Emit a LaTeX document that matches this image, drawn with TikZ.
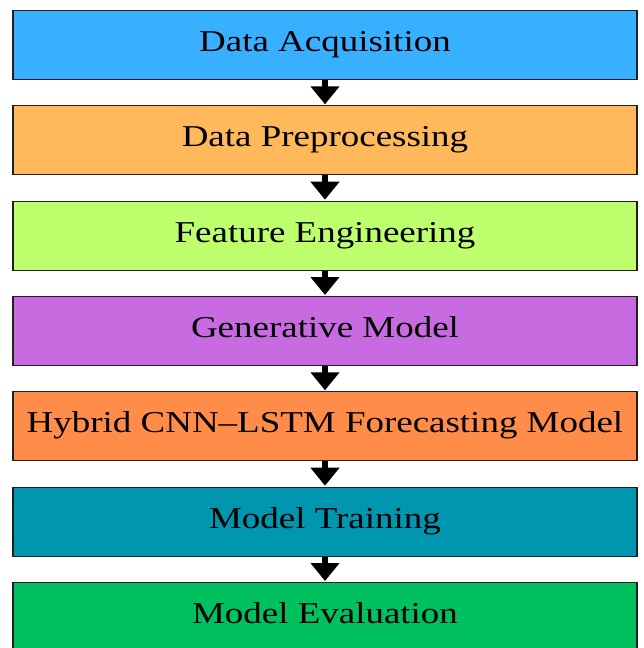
\documentclass[tikz,border=0pt]{standalone}
\usepackage{fontspec}
\setmainfont{Liberation Serif}[FakeStretch=1.22]
\usetikzlibrary{arrows.meta}
\definecolor{cA}{HTML}{38B0FF}
\definecolor{cB}{HTML}{FFB85A}
\definecolor{cC}{HTML}{BEFF6E}
\definecolor{cD}{HTML}{C86AE0}
\definecolor{cE}{HTML}{FF8C48}
\definecolor{cF}{HTML}{0096B0}
\definecolor{cG}{HTML}{00C060}
\definecolor{edge}{HTML}{202020}
\tikzset{
  stage/.style={draw=edge, line width=1.1pt, fill=#1, minimum width=624pt,
    minimum height=69pt, inner sep=0pt, text height=41pt, text depth=28pt,
    font=\fontsize{30.3}{34}\selectfont, text=black, anchor=north},
  flow/.style={line width=6.5pt, -{Triangle[width=28pt,length=18pt]}, black}
}
\begin{document}
\begin{tikzpicture}[x=1pt,y=1pt]
\useasboundingbox (0,0) rectangle (643,-648);
\node[stage=cA] (s1) at (325,-10) {Data Acquisition};
\node[stage=cB] (s2) at (325,-105.3) {Data Preprocessing};
\node[stage=cC] (s3) at (325,-200.7) {Feature Engineering};
\node[stage=cD] (s4) at (325,-296) {Generative Model};
\node[stage=cE] (s5) at (325,-391.3) {Hybrid CNN–LSTM Forecasting Model};
\node[stage=cF] (s6) at (325,-486.7) {Model Training};
\node[stage=cG] (s7) at (325,-582) {Model Evaluation};
\foreach \a/\b in {s1/s2,s2/s3,s3/s4,s4/s5,s5/s6,s6/s7}
  \draw[flow] (\a.south) -- ([yshift=1pt]\b.north);
\end{tikzpicture}
\end{document}
